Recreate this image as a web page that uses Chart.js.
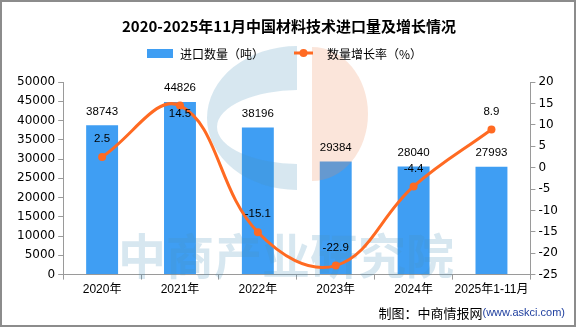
<!DOCTYPE html>
<html>
<head>
<meta charset="utf-8">
<script src="https://cdn.jsdelivr.net/npm/chart.js@4"></script>
<style>
  body { margin: 0; background: #fff; }
  canvas { display: block; }
</style>
</head>
<body>
<canvas id="myChart" width="576" height="327"></canvas>
<script>
// import volume (tons) and year-on-year growth (%)
let years = ['2020年', '2021年', '2022年', '2023年', '2024年', '2025年1-11月'];
let importQty = [38743, 44826, 38196, 29384, 28040, 27993];
let growthRate = [2.5, 14.5, -15.1, -22.9, -4.4, 8.9];
let qtyAxis = [0, 50000, 5000];   // min, max, step
let rateAxis = [-25, 20, 5];

const BLUE = '#3f9ef3';
const ORANGE = '#ff6a22';
const AXIS = '#9a9a9a';
const NUM_FONT = '"Liberation Sans", "Noto Sans CJK SC", sans-serif';
const CJK_FONT = '"Noto Sans CJK SC", "DejaVu Sans", sans-serif';
const TICK_FONT = '"DejaVu Sans", sans-serif';

// faint logo + watermark laid over the bars, under the line
const watermark = {
  id: 'watermark',
  afterDatasetDraw(chart, args) {
    if (args.index !== 0) return;
    const ctx = chart.ctx;
    ctx.save();
    ctx.globalAlpha = 0.22;

    // blue "C"
    ctx.save();
    ctx.beginPath();
    ctx.rect(0, 0, 297, 327);
    ctx.clip();
    ctx.fillStyle = 'rgb(75,147,187)';
    ctx.beginPath();
    ctx.ellipse(297, 118, 90, 72, 0, 0, Math.PI * 2);
    ctx.ellipse(300, 127, 83, 37, 0, 0, Math.PI * 2);
    ctx.fill('evenodd');
    ctx.restore();

    // pink half disc
    ctx.save();
    ctx.beginPath();
    ctx.rect(312, 0, 200, 327);
    ctx.clip();
    ctx.fillStyle = 'rgb(235,135,87)';
    ctx.beginPath();
    ctx.ellipse(312, 114, 56, 67, 0, 0, Math.PI * 2);
    ctx.fill();
    ctx.restore();

    ctx.fillStyle = 'rgb(75,147,187)';
    ctx.font = 'bold 48px ' + CJK_FONT;
    ctx.textBaseline = 'alphabetic';
    ctx.fillText('中商产业研究院', 118, 274);
    ctx.restore();
  }
};

// numbers over bars and points
const valueLabels = {
  id: 'valueLabels',
  afterDatasetsDraw(chart) {
    const ctx = chart.ctx;
    ctx.save();
    ctx.fillStyle = '#000';
    ctx.font = '11.5px ' + NUM_FONT;
    ctx.textAlign = 'center';
    ctx.textBaseline = 'middle';
    chart.getDatasetMeta(0).data.forEach((bar, i) => {
      ctx.fillText(String(importQty[i]), bar.x, bar.y - 14);
    });
    chart.getDatasetMeta(1).data.forEach((pt, i) => {
      // 2021 label goes under the point so it doesn't hit the bar value
      let dy = i === 1 ? 8 : -18;
      ctx.fillText(growthRate[i].toFixed(1), pt.x, pt.y + dy);
    });
    ctx.restore();
  }
};

// title, legend, source line and frame
const decor = {
  id: 'decor',
  afterDraw(chart) {
    const ctx = chart.ctx;
    const W = chart.width, H = chart.height;
    ctx.save();
    ctx.fillStyle = '#000';
    ctx.textBaseline = 'middle';

    ctx.font = 'bold 15px ' + CJK_FONT;
    ctx.textAlign = 'center';
    ctx.fillText('2020-2025年11月中国材料技术进口量及增长情况', 289, 26);

    // legend
    ctx.textAlign = 'left';
    ctx.font = '12px ' + CJK_FONT;
    ctx.fillStyle = BLUE;
    ctx.fillRect(147, 49, 26, 9);
    ctx.fillStyle = '#000';
    ctx.fillText('进口数量（吨）', 180, 54);
    ctx.strokeStyle = ORANGE;
    ctx.lineWidth = 3;
    ctx.beginPath();
    ctx.moveTo(294, 53);
    ctx.lineTo(313, 53);
    ctx.stroke();
    ctx.fillStyle = ORANGE;
    ctx.beginPath();
    ctx.arc(303.5, 53, 4, 0, Math.PI * 2);
    ctx.fill();
    ctx.fillStyle = '#000';
    ctx.fillText('数量增长率（%）', 327, 54);

    // source
    ctx.textAlign = 'right';
    ctx.font = '11px ' + NUM_FONT;
    ctx.fillStyle = '#1f3f9f';
    let src2 = '(www.askci.com)';
    ctx.fillText(src2, 565, 313);
    let w2 = ctx.measureText(src2).width;
    ctx.font = '13px ' + CJK_FONT;
    ctx.fillStyle = '#000';
    ctx.fillText('制图：中商情报网', 565 - w2, 313);

    ctx.strokeStyle = '#8c8c8c';
    ctx.lineWidth = 2;
    ctx.strokeRect(1, 1, W - 2, H - 2);
    ctx.restore();
  }
};

var ctx = document.getElementById('myChart').getContext('2d');
var myChart = new Chart(ctx, {
  type: 'bar',
  data: {
    labels: years,
    datasets: [{
      type: 'bar',
      label: '进口数量（吨）',
      data: importQty,
      backgroundColor: BLUE,
      yAxisID: 'y',
      barPercentage: 0.41,
      categoryPercentage: 1,
      order: 1
    }, {
      type: 'line',
      label: '数量增长率（%）',
      data: growthRate,
      borderColor: ORANGE,
      backgroundColor: ORANGE,
      borderWidth: 3,
      pointRadius: 4,
      pointBackgroundColor: ORANGE,
      pointBorderWidth: 0,
      tension: 0.4,
      yAxisID: 'y1',
      clip: false,
      order: 0
    }]
  },
  options: {
    responsive: false,
    animation: false,
    layout: { padding: { top: 82, left: 14, right: 15, bottom: 27 } },
    plugins: {
      legend: { display: false },
      title: { display: false },
      tooltip: { enabled: false }
    },
    scales: {
      x: {
        grid: { drawOnChartArea: false, offset: true, tickLength: 5, color: AXIS },
        border: { color: AXIS },
        ticks: { color: '#000', font: { size: 12, family: NUM_FONT }, padding: 3, maxRotation: 0, autoSkip: false }
      },
      y: {
        position: 'left',
        min: qtyAxis[0],
        max: qtyAxis[1],
        ticks: { stepSize: qtyAxis[2], color: '#000', font: { size: 12, family: TICK_FONT }, padding: 3, callback: (v) => String(v) },
        grid: { drawOnChartArea: false, tickLength: 5, color: AXIS },
        border: { color: AXIS }
      },
      y1: {
        position: 'right',
        min: rateAxis[0],
        max: rateAxis[1],
        ticks: { stepSize: rateAxis[2], color: '#000', font: { size: 12, family: TICK_FONT }, padding: 3, callback: (v) => String(v) },
        grid: { drawOnChartArea: false, tickLength: 5, color: AXIS },
        border: { color: AXIS }
      }
    }
  },
  plugins: [watermark, valueLabels, decor]
});
</script>
</body>
</html>
